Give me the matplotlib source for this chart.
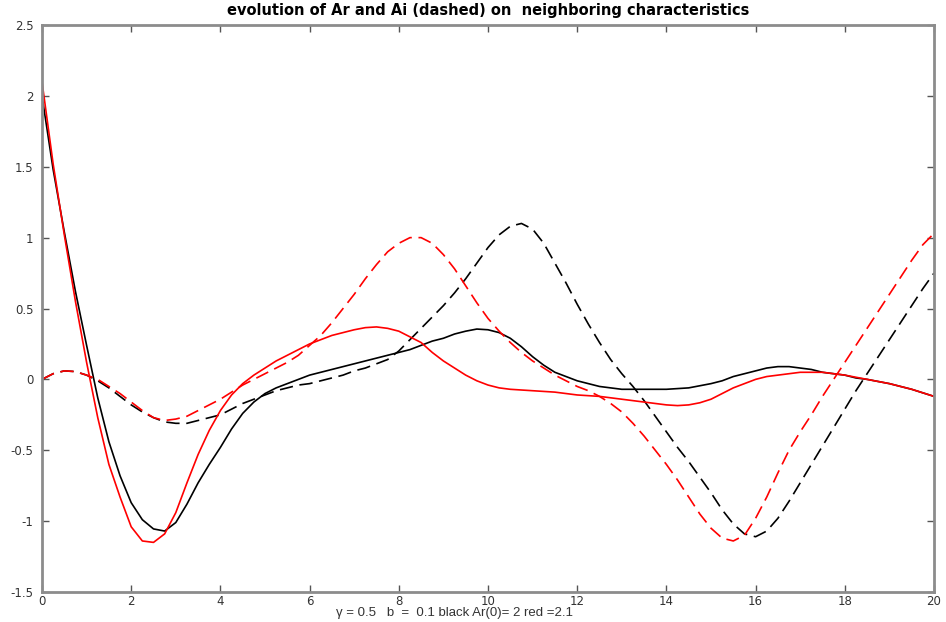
import matplotlib
matplotlib.use("Agg")
import matplotlib.pyplot as plt

plt.rcParams['font.family'] = ['Liberation Sans', 'DejaVu Sans']

# sample positions along the characteristic, step 0.25 from 0 to 20
x = [i / 4 for i in range(81)]

# black: Ar(0) = 2   (one row per unit of x)
ar_black = [2.00, 1.48, 1.04, 0.62,
            0.24, -0.13, -0.44, -0.68,
            -0.87, -0.99, -1.055, -1.07,
            -1.01, -0.88, -0.73, -0.60,
            -0.48, -0.35, -0.24, -0.16,
            -0.10, -0.06, -0.03, 0.00,
            0.03, 0.05, 0.07, 0.09,
            0.11, 0.13, 0.15, 0.17,
            0.19, 0.21, 0.24, 0.27,
            0.29, 0.32, 0.34, 0.355,
            0.35, 0.33, 0.29, 0.23,
            0.16, 0.10, 0.05, 0.02,
            -0.01, -0.03, -0.05, -0.06,
            -0.07, -0.07, -0.07, -0.07,
            -0.07, -0.065, -0.06, -0.045,
            -0.03, -0.01, 0.02, 0.04,
            0.06, 0.08, 0.09, 0.09,
            0.08, 0.07, 0.05, 0.04,
            0.03, 0.01, 0.00, -0.015,
            -0.03, -0.05, -0.07, -0.095,
            -0.12]
ai_black = [0.00, 0.04, 0.06, 0.055,
            0.03, -0.01, -0.06, -0.12,
            -0.18, -0.23, -0.27, -0.30,
            -0.31, -0.31, -0.29, -0.27,
            -0.25, -0.21, -0.17, -0.14,
            -0.11, -0.08, -0.06, -0.04,
            -0.03, -0.01, 0.01, 0.03,
            0.06, 0.08, 0.11, 0.14,
            0.20, 0.28, 0.36, 0.44,
            0.52, 0.61, 0.71, 0.82,
            0.93, 1.02, 1.08, 1.10,
            1.06, 0.96, 0.82, 0.68,
            0.53, 0.39, 0.26, 0.14,
            0.04, -0.05, -0.15, -0.26,
            -0.37, -0.48, -0.58, -0.69,
            -0.80, -0.92, -1.02, -1.09,
            -1.11, -1.07, -0.98, -0.86,
            -0.73, -0.60, -0.47, -0.34,
            -0.21, -0.08, 0.04, 0.16,
            0.28, 0.40, 0.52, 0.64,
            0.75]

# red: Ar(0) = 2.1
ar_red = [2.10, 1.52, 1.02, 0.55,
          0.12, -0.27, -0.60, -0.83,
          -1.04, -1.14, -1.15, -1.09,
          -0.94, -0.73, -0.53, -0.36,
          -0.22, -0.11, -0.03, 0.03,
          0.08, 0.13, 0.17, 0.21,
          0.25, 0.28, 0.31, 0.33,
          0.35, 0.365, 0.37, 0.36,
          0.34, 0.30, 0.26, 0.19,
          0.13, 0.08, 0.03, -0.01,
          -0.04, -0.06, -0.07, -0.075,
          -0.08, -0.085, -0.09, -0.10,
          -0.11, -0.115, -0.12, -0.13,
          -0.14, -0.15, -0.16, -0.17,
          -0.18, -0.185, -0.18, -0.165,
          -0.14, -0.10, -0.06, -0.03,
          0.00, 0.02, 0.03, 0.04,
          0.05, 0.05, 0.05, 0.04,
          0.03, 0.015, 0.00, -0.015,
          -0.03, -0.05, -0.07, -0.095,
          -0.12]
ai_red = [0.00, 0.04, 0.06, 0.055,
          0.03, 0.00, -0.05, -0.10,
          -0.16, -0.22, -0.27, -0.29,
          -0.28, -0.26, -0.22, -0.18,
          -0.14, -0.09, -0.04, 0.00,
          0.04, 0.08, 0.12, 0.17,
          0.24, 0.31, 0.40, 0.50,
          0.60, 0.71, 0.81, 0.90,
          0.96, 1.00, 1.00, 0.96,
          0.88, 0.78, 0.66, 0.54,
          0.43, 0.34, 0.26, 0.19,
          0.13, 0.08, 0.03, -0.01,
          -0.05, -0.08, -0.12, -0.17,
          -0.23, -0.31, -0.40, -0.50,
          -0.60, -0.71, -0.83, -0.95,
          -1.05, -1.12, -1.14, -1.10,
          -0.98, -0.83, -0.66, -0.50,
          -0.37, -0.25, -0.12, 0.00,
          0.12, 0.24, 0.36, 0.48,
          0.60, 0.72, 0.84, 0.95,
          1.03]

fig = plt.figure(figsize=(9.46, 6.22), dpi=100)
ax = fig.add_axes([42/946, 1-592/622, (934-42)/946, (592-25)/622])

dash = (8, 4)
ax.plot(x, ar_black, color='black', lw=1.2)
ax.plot(x, ai_black, color='black', lw=1.2, dashes=dash)
ax.plot(x, ar_red, color='red', lw=1.2)
ax.plot(x, ai_red, color='red', lw=1.2, dashes=dash)

ax.set_xlim(0, 20)
ax.set_ylim(-1.5, 2.5)
ax.set_xticks(range(0, 21, 2))
ax.set_yticks([-1.5, -1, -0.5, 0, 0.5, 1, 1.5, 2, 2.5])
ax.set_yticklabels(['-1.5', '-1', '-0.5', '0', '0.5', '1', '1.5', '2', '2.5'])

for s in ax.spines.values():
    s.set_color('#8c8c8c')
    s.set_linewidth(2)
ax.tick_params(direction='in', top=True, right=True, length=5, width=1,
               color='#555555', labelsize=9, labelcolor='#333333')
ax.tick_params(axis='x', pad=2)
ax.tick_params(axis='y', pad=6)
for lab in ax.get_xticklabels() + ax.get_yticklabels():
    lab.set_family('DejaVu Sans')
    lab.set_fontsize(8.5)

ax.set_title('evolution of Ar and Ai (dashed) on  neighboring characteristics',
             fontsize=10.5, fontweight='bold', family='DejaVu Sans', pad=7)
ax.set_xlabel('γ = 0.5   b  =  0.1 black Ar(0)= 2 red =2.1', fontsize=9.5,
              color='#333333')
ax.xaxis.set_label_coords((454-42)/892, -0.027)

fig.savefig('out.png', dpi=100)
